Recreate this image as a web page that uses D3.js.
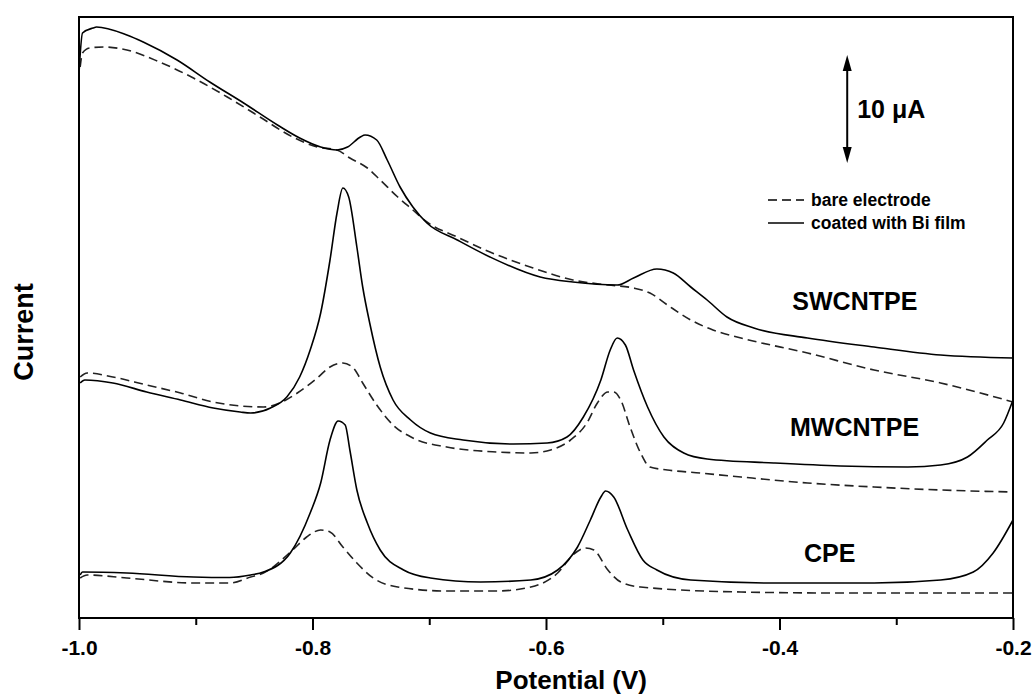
<!DOCTYPE html>
<html><head><meta charset="utf-8">
<script src="https://cdn.jsdelivr.net/npm/d3@7"></script>
<style>
body{margin:0;background:#fff;}
svg{display:block;}
text{font-family:"Liberation Sans",Arial,Helvetica,sans-serif;font-weight:bold;fill:#000;}
</style>
</head><body>
<svg id="chart" width="1035" height="695"></svg>
<script>
// ---------- data ----------
const xTicks = [-1.0, -0.8, -0.6, -0.4, -0.2];
const xTickLabels = ["-1.0", "-0.8", "-0.6", "-0.4", "-0.2"];
const xMinorTicks = [-0.9, -0.7, -0.5, -0.3];
const legendNames = ["bare electrode", "coated with Bi film"];
const electrodeNames = ["SWCNTPE", "MWCNTPE", "CPE"];
const scaleBarLabel = "10 \u03BCA";
const scaleBarValue = 10.8; // arrow length in current units

// [potential (V), current (arb. offset, µA)]
const swcntBiFilm = [[-1.000,54.5],[-0.997,58.5],[-0.988,59.0],[-0.985,59.1],[-0.959,58.3],[-0.945,57.6],[-0.916,55.8],[-0.888,53.6],[-0.859,51.5],[-0.830,49.3],[-0.811,48.0],[-0.793,47.1],[-0.779,46.8],[-0.770,47.1],[-0.759,48.1],[-0.755,48.3],[-0.745,47.8],[-0.736,45.8],[-0.725,43.1],[-0.714,41.1],[-0.702,39.5],[-0.676,37.8],[-0.648,36.1],[-0.605,34.1],[-0.577,33.6],[-0.539,33.3],[-0.525,34.0],[-0.505,34.9],[-0.491,34.5],[-0.476,33.1],[-0.462,31.8],[-0.445,30.1],[-0.422,29.0],[-0.376,28.0],[-0.319,27.1],[-0.262,26.3],[-0.200,26.0]];
const swcntBare = [[-0.999,55.1],[-0.997,56.5],[-0.991,57.0],[-0.979,57.1],[-0.959,56.8],[-0.931,55.6],[-0.902,54.0],[-0.873,52.1],[-0.845,50.1],[-0.817,48.1],[-0.796,47.1],[-0.779,46.8],[-0.768,46.0],[-0.753,45.0],[-0.742,43.8],[-0.727,42.1],[-0.714,40.8],[-0.702,39.6],[-0.676,38.1],[-0.648,36.6],[-0.611,35.0],[-0.577,33.8],[-0.547,33.3],[-0.525,33.0],[-0.511,32.5],[-0.496,31.3],[-0.476,29.8],[-0.457,28.8],[-0.433,28.0],[-0.376,26.5],[-0.319,24.8],[-0.262,23.5],[-0.200,21.6]];
const mwcntBiFilm = [[-0.999,23.5],[-0.995,23.8],[-0.971,23.5],[-0.942,22.6],[-0.913,21.8],[-0.885,21.0],[-0.862,20.6],[-0.853,20.5],[-0.836,21.0],[-0.822,22.1],[-0.811,24.1],[-0.802,26.8],[-0.793,30.5],[-0.785,35.8],[-0.779,40.5],[-0.774,43.0],[-0.769,42.1],[-0.762,37.1],[-0.757,33.1],[-0.751,29.5],[-0.742,25.1],[-0.731,21.8],[-0.716,19.8],[-0.699,18.5],[-0.671,17.8],[-0.628,17.4],[-0.599,17.5],[-0.582,18.1],[-0.568,20.1],[-0.553,23.8],[-0.545,26.8],[-0.539,28.0],[-0.532,27.3],[-0.525,24.8],[-0.513,21.1],[-0.499,18.1],[-0.482,16.5],[-0.462,15.9],[-0.405,15.5],[-0.348,15.2],[-0.290,15.1],[-0.262,15.3],[-0.239,16.1],[-0.222,17.8],[-0.208,19.5],[-0.200,21.8]];
const mwcntBare = [[-0.999,24.1],[-0.993,24.5],[-0.971,24.1],[-0.942,23.3],[-0.913,22.5],[-0.885,21.6],[-0.842,21.1],[-0.828,21.5],[-0.813,22.5],[-0.796,24.0],[-0.785,25.1],[-0.774,25.5],[-0.765,25.0],[-0.757,23.5],[-0.745,21.3],[-0.731,19.3],[-0.714,18.0],[-0.685,17.1],[-0.642,16.6],[-0.613,16.5],[-0.596,16.8],[-0.579,17.8],[-0.565,19.5],[-0.556,21.5],[-0.547,22.6],[-0.542,22.6],[-0.536,21.8],[-0.528,19.1],[-0.519,16.5],[-0.511,15.1],[-0.496,14.8],[-0.468,14.5],[-0.433,14.1],[-0.376,13.5],[-0.319,13.1],[-0.262,12.8],[-0.200,12.6]];
const cpeBiFilm = [[-0.999,4.3],[-0.997,4.6],[-0.959,4.5],[-0.902,4.1],[-0.871,4.05],[-0.853,4.3],[-0.842,4.6],[-0.819,6.5],[-0.802,10.5],[-0.793,13.5],[-0.785,17.8],[-0.778,19.7],[-0.772,19.3],[-0.768,16.8],[-0.762,12.8],[-0.753,9.5],[-0.742,6.8],[-0.722,4.8],[-0.699,4.0],[-0.656,3.6],[-0.613,3.8],[-0.590,4.8],[-0.573,7.1],[-0.562,9.8],[-0.553,12.1],[-0.549,12.7],[-0.542,12.1],[-0.530,8.8],[-0.517,5.8],[-0.505,4.8],[-0.476,3.8],[-0.405,3.5],[-0.319,3.5],[-0.262,3.8],[-0.234,4.6],[-0.217,6.5],[-0.200,9.8]];
const cpeBare = [[-0.999,4.0],[-0.993,4.3],[-0.959,4.0],[-0.902,3.5],[-0.871,3.5],[-0.853,4.1],[-0.842,4.5],[-0.817,6.8],[-0.805,8.1],[-0.793,8.8],[-0.785,8.6],[-0.774,7.1],[-0.762,5.5],[-0.748,4.0],[-0.727,3.1],[-0.685,2.7],[-0.642,2.7],[-0.613,3.1],[-0.590,4.5],[-0.577,6.3],[-0.566,7.0],[-0.559,6.8],[-0.547,4.8],[-0.536,3.6],[-0.519,3.1],[-0.433,2.6],[-0.348,2.5],[-0.262,2.5],[-0.200,2.5]];

// ---------- layout ----------
const plot = {left: 79, right: 1013, top: 17, bottom: 618};
const svg = d3.select("#chart");

const x = d3.scaleLinear().domain([-1.0, -0.2]).range([plot.left, plot.right]);
const y = d3.scaleLinear().domain([0, 60.1]).range([plot.bottom, plot.top]);

svg.append("defs").append("clipPath").attr("id", "clip")
  .append("rect").attr("x", plot.left).attr("y", plot.top)
  .attr("width", plot.right - plot.left).attr("height", plot.bottom - plot.top);

const line = d3.line().x(d => x(d[0])).y(d => y(d[1])).curve(d3.curveMonotoneX);

const curves = [
  {data: swcntBare, dashed: true}, {data: swcntBiFilm, dashed: false},
  {data: mwcntBare, dashed: true}, {data: mwcntBiFilm, dashed: false},
  {data: cpeBare, dashed: true}, {data: cpeBiFilm, dashed: false}
];
const g = svg.append("g").attr("clip-path", "url(#clip)");
g.selectAll("path.curve").data(curves).join("path")
  .attr("class", "curve")
  .attr("d", d => line(d.data))
  .attr("fill", "none")
  .attr("stroke", d => d.dashed ? "#222" : "#000")
  .attr("stroke-width", 1.6)
  .attr("stroke-dasharray", d => d.dashed ? "9,5" : null);

// frame
svg.append("rect").attr("x", plot.left).attr("y", plot.top)
  .attr("width", plot.right - plot.left).attr("height", plot.bottom - plot.top)
  .attr("fill", "none").attr("stroke", "#000").attr("stroke-width", 2);

// bottom axis
const axisMajor = d3.axisBottom(x).tickValues(xTicks)
  .tickFormat((d, i) => xTickLabels[i]).tickSize(12).tickPadding(10);
const ax = svg.append("g").attr("transform", `translate(0,${plot.bottom})`).call(axisMajor);
ax.select(".domain").remove();
ax.selectAll(".tick line").attr("stroke", "#000").attr("stroke-width", 2);
ax.selectAll(".tick text").attr("font-size", 21).attr("font-weight", "bold")
  .attr("font-family", '"Liberation Sans",Arial,sans-serif').attr("fill", "#000");
const axisMinor = d3.axisBottom(x).tickValues(xMinorTicks).tickFormat("").tickSize(7);
const axm = svg.append("g").attr("transform", `translate(0,${plot.bottom})`).call(axisMinor);
axm.select(".domain").remove();
axm.selectAll(".tick line").attr("stroke", "#000").attr("stroke-width", 2);

// axis titles
svg.append("text").attr("x", 647).attr("y", 689).attr("text-anchor", "end")
  .attr("font-size", 26).text("Potential (V)");
svg.append("text").attr("transform", "translate(33,332) rotate(-90)")
  .attr("text-anchor", "middle").attr("font-size", 27).text("Current");

// electrode labels
const labelPos = [{v: -0.389, c: 30.8}, {v: -0.391, c: 18.2}, {v: -0.379, c: 5.6}];
svg.selectAll("text.elec").data(electrodeNames).join("text")
  .attr("class", "elec")
  .attr("x", (d, i) => x(labelPos[i].v)).attr("y", (d, i) => y(labelPos[i].c))
  .attr("font-size", 25).text(d => d);

// scale bar arrow
const arrowV = -0.342, arrowTop = 56.3;
const ax0 = x(arrowV), ay0 = y(arrowTop), ay1 = y(arrowTop - scaleBarValue);
svg.append("line").attr("x1", ax0).attr("x2", ax0).attr("y1", ay0 + 6).attr("y2", ay1 - 6)
  .attr("stroke", "#000").attr("stroke-width", 2);
svg.append("path").attr("d", `M${ax0},${ay0} L${ax0-4.5},${ay0+16} L${ax0+4.5},${ay0+16} Z`).attr("fill", "#000");
svg.append("path").attr("d", `M${ax0},${ay1} L${ax0-4.5},${ay1-16} L${ax0+4.5},${ay1-16} Z`).attr("fill", "#000");
svg.append("text").attr("x", ax0 + 10).attr("y", (ay0 + ay1) / 2 + 9)
  .attr("font-size", 25).text(scaleBarLabel);

// legend
const legX0 = 768, legX1 = 804, legTextX = 811;
const legY = [200, 223];
legendNames.forEach((name, i) => {
  svg.append("line").attr("x1", legX0).attr("x2", legX1).attr("y1", legY[i]).attr("y2", legY[i])
    .attr("stroke", "#000").attr("stroke-width", 1.6)
    .attr("stroke-dasharray", i === 0 ? "9,5" : null);
  svg.append("text").attr("x", legTextX).attr("y", legY[i] + 6)
    .attr("font-size", 17.5).text(name);
});
</script>
</body></html>
